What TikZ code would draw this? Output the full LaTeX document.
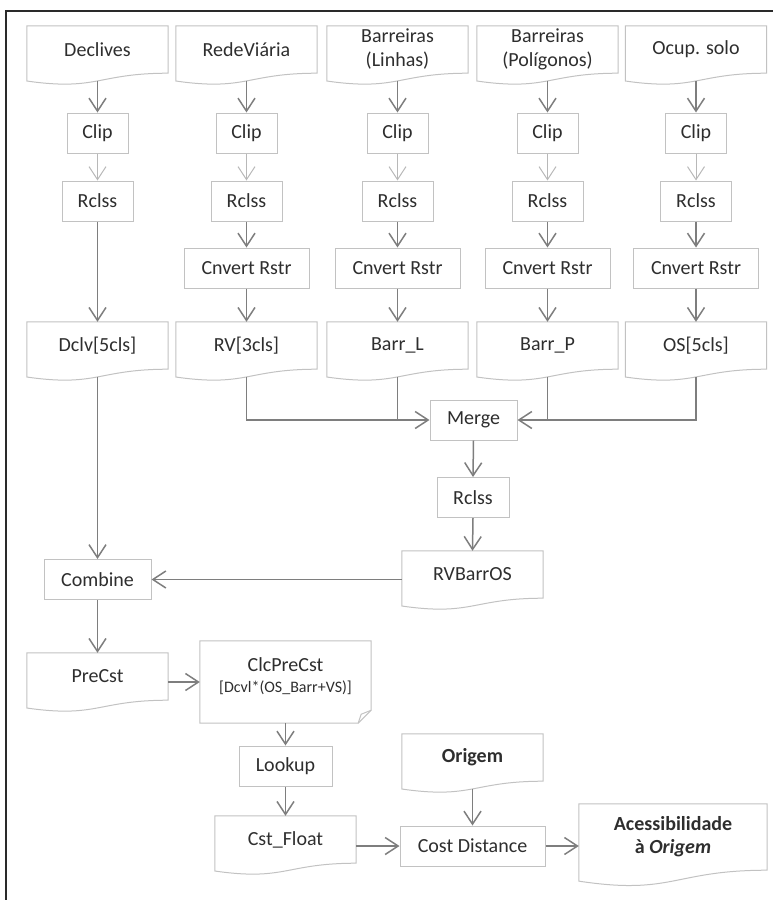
\documentclass[tikz,border=0pt]{standalone}
\usepackage{fontspec}
\setmainfont{Carlito}
\usetikzlibrary{arrows.meta,calc}
\definecolor{txt}{HTML}{2E2E2E}
\definecolor{bord}{HTML}{C2C2C2}
\definecolor{arr}{HTML}{7E7E7E}
\definecolor{arrlight}{HTML}{B8B8B8}
\definecolor{framec}{HTML}{2A2A2A}
\tikzset{
  box/.style={draw=bord, line width=1pt, fill=white, inner sep=0pt, minimum height=40pt, text=txt, font=\fontsize{20}{24}\selectfont},
  doc/.style={inner sep=0pt, minimum width=141pt, minimum height=47pt, text=txt, align=center, font=\fontsize{20}{24}\selectfont},
  flow/.style={draw=arr, line width=1.5pt, -{Straight Barb[length=13pt,width=17pt]}},
  flowlight/.style={draw=arrlight, line width=1pt, -{Straight Barb[length=13pt,width=17pt]}},
  link/.style={draw=arr, line width=1.5pt},
  docline/.style={draw=bord, line width=1pt},
}
\newcommand\docoutline[1]{\draw[docline] (#1.north west) -- (#1.north east) -- (#1.south east) .. controls (#1.south) and ($(#1.north)!1.38!(#1.south)$) .. ($(#1.north west)!1.1646!(#1.south west)$) -- cycle;}
\newcommand\docbot[1]{($(#1.north)!1.163!(#1.south)$)}
\begin{document}
\begin{tikzpicture}[x=1pt,y=-1pt]
\useasboundingbox (0,0) rectangle (773,900);
\draw[framec, line width=2pt] (773,11) -- (6,11) -- (6,900);

% row 1 documents
\node[doc] (d1) at (97.5,49.5) {Declives};
\node[doc] (d2) at (246.5,49.5) {RedeViária};
\node[doc] (d3) at (397.5,49.5) {Barreiras\\(Linhas)};
\node[doc] (d4) at (547.5,49.5) {Barreiras\\(Polígonos)};
\node[doc] (d5) at (696,49.5) {Ocup. solo};
\foreach \n in {d1,d2,d3,d4,d5} {\docoutline{\n}}

% clip
\node[box, minimum width=61pt] (c1) at (97.5,133) {Clip};
\node[box, minimum width=61pt] (c2) at (246.5,133) {Clip};
\node[box, minimum width=61pt] (c3) at (397.5,133) {Clip};
\node[box, minimum width=61pt] (c4) at (547.5,133) {Clip};
\node[box, minimum width=61pt] (c5) at (696,133) {Clip};
% rclss
\node[box, minimum width=71pt] (r1) at (97.5,201) {Rclss};
\node[box, minimum width=71pt] (r2) at (246.5,201) {Rclss};
\node[box, minimum width=71pt] (r3) at (397.5,201) {Rclss};
\node[box, minimum width=71pt] (r4) at (547.5,201) {Rclss};
\node[box, minimum width=71pt] (r5) at (696,201) {Rclss};
% convert
\node[box, minimum width=125pt] (v2) at (246.5,268) {Cnvert Rstr};
\node[box, minimum width=125pt] (v3) at (397.5,268) {Cnvert Rstr};
\node[box, minimum width=125pt] (v4) at (547.5,268) {Cnvert Rstr};
\node[box, minimum width=125pt] (v5) at (696,268) {Cnvert Rstr};

% row 2 documents
\node[doc] (e1) at (97.5,345.5) {Dclv[5cls]};
\node[doc] (e2) at (246.5,345.5) {RV[3cls]};
\node[doc] (e3) at (397.5,345.5) {Barr\_L};
\node[doc] (e4) at (547.5,345.5) {Barr\_P};
\node[doc] (e5) at (696,345.5) {OS[5cls]};
\foreach \n in {e1,e2,e3,e4,e5} {\docoutline{\n}}

\node[box, minimum width=87pt] (merge) at (473.5,420) {Merge};
\node[box, minimum width=72pt] (r6) at (473,497.5) {Rclss};
\node[doc] (rvb) at (472.5,574.5) {RVBarrOS};
\docoutline{rvb}
\node[box, minimum width=107pt] (comb) at (97.5,579.5) {Combine};
\node[doc] (pre) at (97.5,676.5) {PreCst};
\docoutline{pre}
\node[inner sep=0pt, minimum width=171pt, minimum height=82pt, align=center, text=txt, font=\fontsize{20}{24}\selectfont] (clc) at (285.5,682) {ClcPreCst\\[-3pt]{\fontsize{16}{18}\selectfont [Dcvl*(OS\_Barr+VS)]}\\[-10pt]};
\draw[docline] (clc.north west) -- (clc.north east) -- ($(clc.south east)+(0,-13)$) -- ($(clc.south east)+(-13,0)$) -- (clc.south west) -- cycle;
\draw[docline] ($(clc.south east)+(-13,0)$) -- ($(clc.south east)+(-10,-9)$) -- ($(clc.south east)+(0,-13)$);
\node[box, minimum width=93pt] (look) at (285.5,766) {Lookup};
\node[doc] (cst) at (285.5,839.5) {Cst\_Float};
\docoutline{cst}
\node[doc] (ori) at (472.5,757.5) {\textbf{Origem}};
\docoutline{ori}
\node[box, minimum width=145pt] (cd) at (472.5,846) {Cost Distance};
\node[doc, minimum width=188pt, minimum height=66pt] (acc) at (673,837) {\textbf{Acessibilidade}\\[-1pt]\textbf{à \textit{Origem}}};
\docoutline{acc}

% connectors columns
\foreach \i in {1,...,5} {
  \draw[flow] \docbot{d\i} -- (c\i.north);
  \draw[flowlight] (c\i.south) -- (r\i.north);
}
\draw[flow] (r1.south) -- (e1.north);
\foreach \i in {2,...,5} {
  \draw[flow] (r\i.south) -- (v\i.north);
  \draw[flow] (v\i.south) -- (e\i.north);
}
\draw[flow] \docbot{e2} |- (merge.west);
\draw[link] \docbot{e3} -- (e3 |- merge.west);
\draw[flow] \docbot{e5} |- (merge.east);
\draw[link] \docbot{e4} -- (e4 |- merge.east);
\draw[flow] (merge.south) -- (r6.north);
\draw[flow] (r6.south) -- (rvb.north);
\draw[flow] (comb.east -| rvb.west) -- (comb.east);
\draw[flow] \docbot{e1} -- (comb.north);
\draw[flow] (comb.south) -- (pre.north);
\draw[flow] (pre.east |- clc.west) -- (clc.west);
\draw[flow] (clc.south) -- (look.north);
\draw[flow] (look.south) -- (cst.north);
\draw[flow] (cst.east |- cd.west) -- (cd.west);
\draw[flow] \docbot{ori} -- (cd.north);
\draw[flow] (cd.east) -- (cd.east -| acc.west);
\end{tikzpicture}
\end{document}
